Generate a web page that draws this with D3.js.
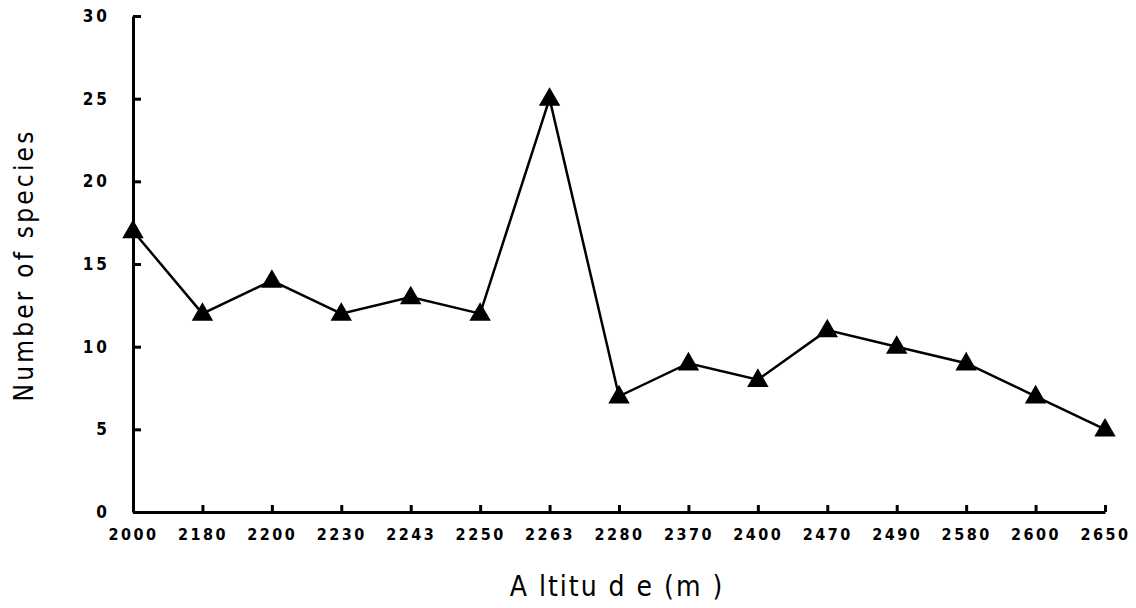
<!DOCTYPE html>
<html>
<head>
<meta charset="utf-8">
<script src="https://cdn.jsdelivr.net/npm/d3@7"></script>
<style>
  body { margin: 0; background: #fff; }
  text { font-family: "Liberation Sans Narrow", "DejaVu Sans Condensed", "Liberation Sans", sans-serif; fill: #000; }
</style>
</head>
<body>
<svg id="chart" width="1136" height="608"></svg>
<script>
// altitude categories and species counts
var altitudes = ['2000','2180','2200','2230','2243','2250','2263','2280','2370','2400','2470','2490','2580','2600','2650'];
var species = [17, 12, 14, 12, 13, 12, 25, 7, 9, 8, 11, 10, 9, 7, 5];
var yTicks = [0, 5, 10, 15, 20, 25, 30];

var svg = d3.select('#chart');
var padL = 133, padR = 1105, padT = 16, padB = 512;

var x = d3.scalePoint().domain(altitudes).range([padL, padR]).padding(0);
var y = d3.scaleLinear().domain([0, 30]).range([padB, padT]);

var tickFont = '"Liberation Sans Narrow", "DejaVu Sans Condensed", sans-serif';

// y axis
var ya = svg.append('g').attr('transform', 'translate(' + padL + ',0)')
  .call(d3.axisLeft(y).tickValues(yTicks).tickSizeInner(-8).tickSizeOuter(0).tickPadding(23));
ya.select('.domain').attr('stroke', '#000').attr('stroke-width', 3);
ya.selectAll('.tick line').attr('stroke', '#000').attr('stroke-width', 3);
ya.selectAll('.tick text').attr('font-size', 17).attr('font-weight', 'bold')
  .attr('letter-spacing', '3px').style('font-family', tickFont);

// x axis
var xa = svg.append('g').attr('transform', 'translate(0,' + padB + ')')
  .call(d3.axisBottom(x).tickSizeInner(-7).tickSizeOuter(0).tickPadding(17));
xa.select('.domain').attr('stroke', '#000').attr('stroke-width', 3);
xa.selectAll('.tick line').attr('stroke', '#000').attr('stroke-width', 3);
xa.selectAll('.tick text').attr('font-size', 16).attr('font-weight', 'bold')
  .attr('letter-spacing', '2.5px').style('font-family', tickFont);

// line
var line = d3.line().x(function(d, i){ return x(altitudes[i]); }).y(function(d){ return y(d); });
svg.append('path').datum(species).attr('d', line)
  .attr('fill', 'none').attr('stroke', '#000').attr('stroke-width', 2.5);

// triangle markers
var tri = d3.symbol().type(d3.symbolTriangle).size(200);
svg.selectAll('.mk').data(species).enter().append('path')
  .attr('class', 'mk')
  .attr('d', tri)
  .attr('transform', function(d, i){ return 'translate(' + x(altitudes[i]) + ',' + (y(d) + 1) + ')'; })
  .attr('fill', '#000');

// axis titles
svg.append('text').attr('x', 617).attr('y', 596).attr('text-anchor', 'middle')
  .attr('font-size', 28).attr('letter-spacing', '2px').text('A ltitu d e (m )');
svg.append('text').attr('transform', 'translate(33,265) rotate(-90)').attr('text-anchor', 'middle')
  .attr('font-size', 26).attr('letter-spacing', '3.2px').text('Number of species');
</script>
</body>
</html>
